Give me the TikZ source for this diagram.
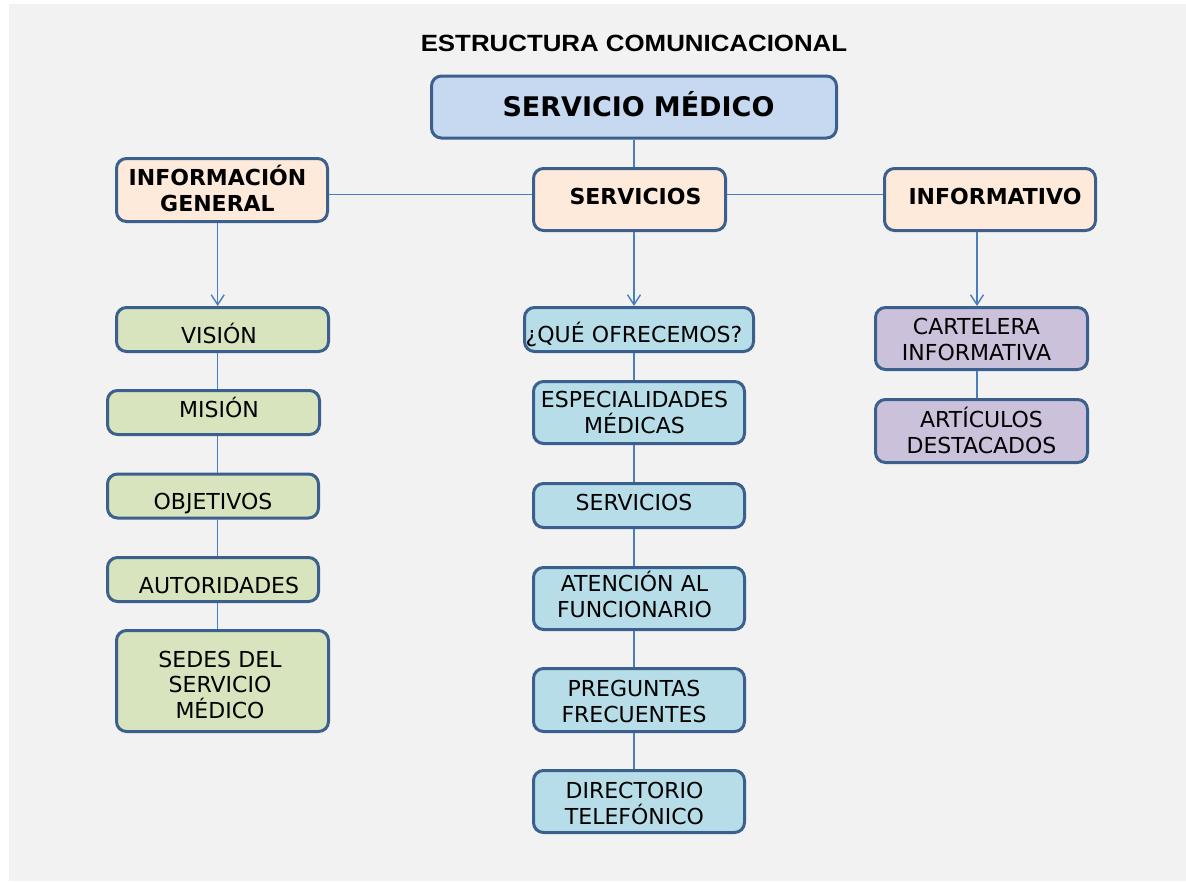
\documentclass[tikz,border=0pt]{standalone}
\usepackage{fontspec}
\setmainfont{DejaVu Sans}
\newfontfamily\titlefont[FakeStretch=1.1]{Liberation Sans}
\usetikzlibrary{arrows.meta}
\definecolor{bgc}{HTML}{F2F2F2}
\definecolor{bord}{RGB}{60,96,142}
\definecolor{conn}{HTML}{4A7EBB}
\definecolor{topf}{HTML}{C6D9F1}
\definecolor{peach}{HTML}{FDEADA}
\definecolor{greenf}{HTML}{D7E4BD}
\definecolor{bluef}{HTML}{B7DEE8}
\definecolor{purplef}{HTML}{CCC1DA}
\tikzset{
  box/.style={draw=bord, line width=3pt, rounded corners=10pt, inner sep=0pt,
    align=center, text=black, font=\fontsize{22}{26}\selectfont},
  sz/.style n args={2}{minimum width=#1, minimum height=#2, text width={#1-2}},
  hd/.style={box, fill=peach, font=\fontsize{22}{26}\selectfont\bfseries},
  gbox/.style={box, fill=greenf},
  bbox/.style={box, fill=bluef},
  pbox/.style={box, fill=purplef},
  one/.style={text height=#1, text depth=0pt},
  two/.style={text height=16pt, text depth=#1},
  sr/.style={execute at begin node={\leftskip=#1 plus 1fil\rightskip=0pt plus 1fil\parfillskip=0pt\relax}},
  sl/.style={execute at begin node={\leftskip=0pt plus 1fil\rightskip=#1 plus 1fil\parfillskip=0pt\relax}},
  link/.style={draw=conn, line width=1.4pt},
  arr/.style={link, -{Straight Barb[length=10pt,width=13pt]}},
}
\begin{document}
\begin{tikzpicture}[x=1pt,y=-1pt]
\useasboundingbox (0,0) rectangle (1186,881);
\fill[bgc] (9,4) rectangle (1186,881);

\node[font=\titlefont\bfseries\fontsize{23.5}{28}\selectfont, anchor=base, inner sep=0pt] (title) at (634,51) {ESTRUCTURA COMUNICACIONAL};

\node[box, fill=topf, sz={405}{62}, one=18pt, sr=9pt, font=\fontsize{27}{32}\selectfont\bfseries] (top) at (634,107) {SERVICIO MÉDICO};

\node[hd, sz={211}{63}, two=26pt, sl=9pt] (ig) at (222,190) {INFORMACIÓN\\GENERAL};
\node[hd, sz={192}{62}, one=9pt, sr=12pt] (sv) at (629.5,199.5) {SERVICIOS};
\node[hd, sz={211}{62}, one=9.6pt, sr=10pt] (inf) at (990,199.5) {INFORMATIVO};

\node[gbox, sz={212}{44}, one=27pt, sl=7pt] (vis) at (222.5,329.5) {VISIÓN};
\node[gbox, sz={212}{44}, one=9pt, sr=11pt] (mis) at (213.5,412.5) {MISIÓN};
\node[gbox, sz={211}{44}, one=26pt] (obj) at (213,496) {OBJETIVOS};
\node[gbox, sz={211}{44}, one=27pt, sr=12pt] (aut) at (213,579.5) {AUTORIDADES};
\node[gbox, sz={212}{101}, two=44pt, sl=5pt, font=\fontsize{22}{25.5}\selectfont] (sed) at (222.5,681) {SEDES DEL\\SERVICIO\\MÉDICO};

\node[bbox, sz={229}{44}, one=25pt, sl=10pt] (q) at (639,329.5) {¿QUÉ OFRECEMOS?};
\node[bbox, sz={211}{62}, two=27pt, sl=9pt] (esp) at (639,412.5) {ESPECIALIDADES\\MÉDICAS};
\node[bbox, sz={211}{44}, one=9pt, sl=10pt] (ser) at (639,505.5) {SERVICIOS};
\node[bbox, sz={211}{62}, two=31pt, sl=9pt] (ate) at (639,598.5) {ATENCIÓN AL\\FUNCIONARIO};
\node[bbox, sz={211}{63}, two=24pt, sl=10pt] (pre) at (639,700) {PREGUNTAS\\FRECUENTES};
\node[bbox, sz={211}{62}, two=23pt, sl=9pt] (dir) at (639,801.5) {DIRECTORIO\\TELEFÓNICO};

\node[pbox, sz={212}{62}, two=25pt, sl=10pt] (car) at (981.5,338.5) {CARTELERA\\INFORMATIVA};
\node[pbox, sz={212}{63}, two=24pt] (art) at (981.5,431) {ARTÍCULOS\\DESTACADOS};

\coordinate (lx) at (217.7,0);
\coordinate (mx) at (634,0);
\coordinate (rx) at (977,0);
\coordinate (hy) at (0,194.5);

\draw[link] (top.south -| mx) -- (sv.north -| mx);
\draw[link] (ig.east |- hy) -- (sv.west |- hy);
\draw[link] (sv.east |- hy) -- (inf.west |- hy);

\draw[arr] (ig.south -| lx) -- (vis.north -| lx);
\draw[arr] (sv.south -| mx) -- (q.north -| mx);
\draw[arr] (inf.south -| rx) -- (car.north -| rx);

\draw[link] (vis.south -| lx) -- (mis.north -| lx);
\draw[link] (mis.south -| lx) -- (obj.north -| lx);
\draw[link] (obj.south -| lx) -- (aut.north -| lx);
\draw[link] (aut.south -| lx) -- (sed.north -| lx);

\draw[link] (q.south -| mx) -- (esp.north -| mx);
\draw[link] (esp.south -| mx) -- (ser.north -| mx);
\draw[link] (ser.south -| mx) -- (ate.north -| mx);
\draw[link] (ate.south -| mx) -- (pre.north -| mx);
\draw[link] (pre.south -| mx) -- (dir.north -| mx);

\draw[link] (car.south -| rx) -- (art.north -| rx);
\end{tikzpicture}
\end{document}
